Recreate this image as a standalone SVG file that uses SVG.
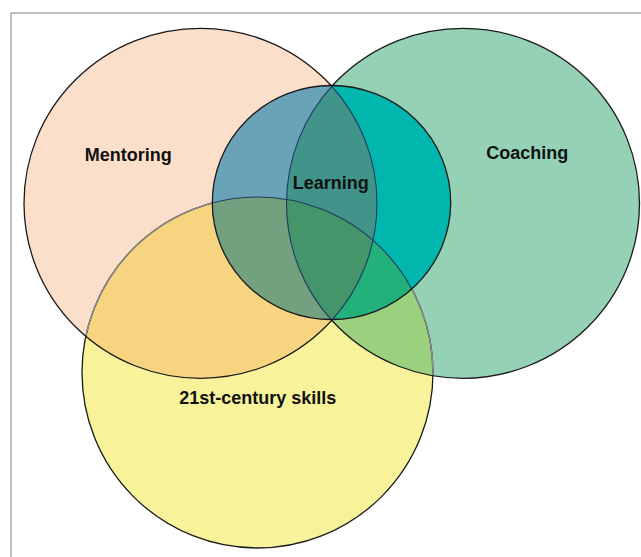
<svg xmlns="http://www.w3.org/2000/svg" width="641" height="557" viewBox="0 0 641 557">
  <style>
    .lbl { font-family: "Liberation Sans", Arial, sans-serif; font-weight: bold; font-size: 18px; fill: #111111; text-anchor: middle; }
    .outer { fill: none; stroke: #1a1a1a; stroke-width: 1.3; }
    .soft { fill: none; stroke: #8e8e8e; stroke-width: 1.3; }
    .inner { fill: none; stroke: #1f3a5f; stroke-width: 1.1; }
  </style>
  <defs>
    <ellipse id="shM" cx="200.5" cy="203.3" rx="176.5" ry="175"/>
    <ellipse id="shC" cx="463" cy="203.3" rx="176.5" ry="175"/>
    <ellipse id="shY" cx="257.5" cy="372.5" rx="175.5" ry="175.5"/>
    <ellipse id="shL" cx="331.5" cy="202.5" rx="119.2" ry="117"/>
    <clipPath id="cM"><use href="#shM"/></clipPath>
    <clipPath id="cC"><use href="#shC"/></clipPath>
    <clipPath id="cY"><use href="#shY"/></clipPath>
    <clipPath id="cL"><use href="#shL"/></clipPath>
  </defs>

  <rect x="11" y="13" width="700" height="600" fill="#ffffff" stroke="#7f7f7f" stroke-width="1"/>

  <g id="mentoring">
    <use href="#shM" fill="#fbdfca"/>
  </g>
  <g id="coaching">
    <use href="#shC" fill="#95d1b5"/>
  </g>
  <g id="skills">
    <use href="#shY" fill="#f8f39a"/>
    <g clip-path="url(#cY)">
      <use href="#shM" fill="#f7d580"/>
      <use href="#shC" fill="#9bd07e"/>
    </g>
    <use href="#shY" class="outer"/>
    <g clip-path="url(#cM)"><use href="#shY" class="soft"/></g>
    <g clip-path="url(#cC)"><use href="#shY" class="soft"/></g>
  </g>
  <g id="outlines">
    <use href="#shM" class="outer"/>
    <use href="#shC" class="outer"/>
  </g>

  <g id="learning">
    <g clip-path="url(#cL)">
      <use href="#shL" fill="#6aa3b7"/>
      <g clip-path="url(#cY)"><use href="#shL" fill="#73a07f"/></g>
      <g clip-path="url(#cC)">
        <use href="#shL" fill="#00b6ad"/>
        <use href="#shM" fill="#409489"/>
        <g clip-path="url(#cY)">
          <use href="#shC" fill="#22b17a"/>
          <use href="#shM" fill="#44966a"/>
        </g>
      </g>
      <use href="#shM" class="inner"/>
      <use href="#shC" class="inner"/>
      <use href="#shY" class="inner"/>
    </g>
    <use href="#shL" class="outer"/>
    <text class="lbl" x="330.8" y="189.3">Learning</text>
  </g>

  <g id="labels">
    <text class="lbl" x="128.3" y="160.7">Mentoring</text>
    <text class="lbl" x="527.3" y="159.3">Coaching</text>
    <text class="lbl" x="257.7" y="404">21st-century skills</text>
  </g>
</svg>
